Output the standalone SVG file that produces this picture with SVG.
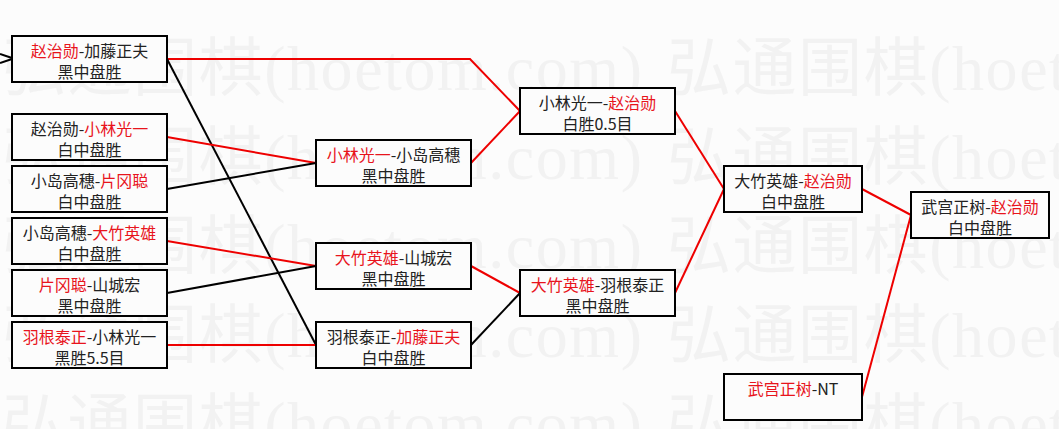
<svg xmlns="http://www.w3.org/2000/svg" width="1059" height="429" viewBox="0 0 1059 429">
<style>
.bg{fill:#fcfcfc}
.wm{font-family:"Liberation Serif","Noto Sans CJK SC",serif;font-size:64px;fill:#f2f2f2}
.box{fill:#fcfcfc;stroke:#000;stroke-width:2}
.t{font-family:"Noto Sans CJK SC","Noto Sans CJK JP",sans-serif;font-size:16px;fill:#222;text-anchor:middle}
.r{fill:#e8141c}
.lr{stroke:#ee0000;stroke-width:2;fill:none}
.lb{stroke:#000;stroke-width:2;fill:none}
</style>
<rect class="bg" x="0" y="0" width="1059" height="429"/>
<g id="watermark" class="wm">
<text x="2" y="90" textLength="640" lengthAdjust="spacing">弘通围棋(hoetom.com)</text>
<text x="667" y="90" textLength="640" lengthAdjust="spacing">弘通围棋(hoetom.com)</text>
<text x="2" y="179" textLength="640" lengthAdjust="spacing">弘通围棋(hoetom.com)</text>
<text x="667" y="179" textLength="640" lengthAdjust="spacing">弘通围棋(hoetom.com)</text>
<text x="2" y="268" textLength="640" lengthAdjust="spacing">弘通围棋(hoetom.com)</text>
<text x="667" y="268" textLength="640" lengthAdjust="spacing">弘通围棋(hoetom.com)</text>
<text x="2" y="357" textLength="640" lengthAdjust="spacing">弘通围棋(hoetom.com)</text>
<text x="667" y="357" textLength="640" lengthAdjust="spacing">弘通围棋(hoetom.com)</text>
<text x="2" y="446" textLength="640" lengthAdjust="spacing">弘通围棋(hoetom.com)</text>
<text x="667" y="446" textLength="640" lengthAdjust="spacing">弘通围棋(hoetom.com)</text>
</g>
<g id="connectors">
<polyline class="lb" points="0,54 12,58"/>
<polyline class="lb" points="0,63 12,59"/>
<polyline class="lr" points="167,59 470,59 520,111"/>
<polyline class="lb" points="167,59 316,345"/>
<polyline class="lr" points="167,137 316,163"/>
<polyline class="lb" points="167,189 316,163"/>
<polyline class="lr" points="167,241 316,266"/>
<polyline class="lb" points="167,293 316,266"/>
<polyline class="lr" points="167,345 316,345"/>
<polyline class="lr" points="471,163 520,111"/>
<polyline class="lr" points="471,266 520,293"/>
<polyline class="lb" points="471,345 520,293"/>
<polyline class="lr" points="675,111 724,189"/>
<polyline class="lr" points="675,293 724,189"/>
<polyline class="lr" points="862,189 911,215"/>
<polyline class="lr" points="862,397 911,215"/>
</g>
<g id="n1a"><rect class="box" x="12" y="36" width="155" height="46"/>
<text class="t" x="89.5" y="57"><tspan class="r">赵治勋</tspan>-加藤正夫</text>
<text class="t" x="89.5" y="78">黑中盘胜</text></g>
<g id="n1b"><rect class="box" x="12" y="114" width="155" height="46"/>
<text class="t" x="89.5" y="135">赵治勋-<tspan class="r">小林光一</tspan></text>
<text class="t" x="89.5" y="156">白中盘胜</text></g>
<g id="n1c"><rect class="box" x="12" y="166" width="155" height="46"/>
<text class="t" x="89.5" y="187">小岛高穗-<tspan class="r">片冈聪</tspan></text>
<text class="t" x="89.5" y="208">白中盘胜</text></g>
<g id="n1d"><rect class="box" x="12" y="218" width="155" height="46"/>
<text class="t" x="89.5" y="239">小岛高穗-<tspan class="r">大竹英雄</tspan></text>
<text class="t" x="89.5" y="260">白中盘胜</text></g>
<g id="n1e"><rect class="box" x="12" y="270" width="155" height="46"/>
<text class="t" x="89.5" y="291"><tspan class="r">片冈聪</tspan>-山城宏</text>
<text class="t" x="89.5" y="312">黑中盘胜</text></g>
<g id="n1f"><rect class="box" x="12" y="322" width="155" height="46"/>
<text class="t" x="89.5" y="343"><tspan class="r">羽根泰正</tspan>-小林光一</text>
<text class="t" x="89.5" y="364">黑胜5.5目</text></g>
<g id="n2a"><rect class="box" x="316" y="140" width="155" height="46"/>
<text class="t" x="393.5" y="161"><tspan class="r">小林光一</tspan>-小岛高穗</text>
<text class="t" x="393.5" y="182">黑中盘胜</text></g>
<g id="n2b"><rect class="box" x="316" y="243" width="155" height="46"/>
<text class="t" x="393.5" y="264"><tspan class="r">大竹英雄</tspan>-山城宏</text>
<text class="t" x="393.5" y="285">黑中盘胜</text></g>
<g id="n2c"><rect class="box" x="316" y="322" width="155" height="46"/>
<text class="t" x="393.5" y="343">羽根泰正-<tspan class="r">加藤正夫</tspan></text>
<text class="t" x="393.5" y="364">白中盘胜</text></g>
<g id="n3a"><rect class="box" x="520" y="88" width="155" height="46"/>
<text class="t" x="597.5" y="109">小林光一-<tspan class="r">赵治勋</tspan></text>
<text class="t" x="597.5" y="130">白胜0.5目</text></g>
<g id="n3b"><rect class="box" x="520" y="270" width="155" height="46"/>
<text class="t" x="597.5" y="291"><tspan class="r">大竹英雄</tspan>-羽根泰正</text>
<text class="t" x="597.5" y="312">黑中盘胜</text></g>
<g id="n4a"><rect class="box" x="724" y="166" width="138" height="46"/>
<text class="t" x="793" y="187">大竹英雄-<tspan class="r">赵治勋</tspan></text>
<text class="t" x="793" y="208">白中盘胜</text></g>
<g id="n4b"><rect class="box" x="724" y="374" width="138" height="46"/>
<text class="t" x="793" y="395"><tspan class="r">武宫正树</tspan>-NT</text></g>
<g id="n5"><rect class="box" x="911" y="192" width="138" height="46"/>
<text class="t" x="980" y="213">武宫正树-<tspan class="r">赵治勋</tspan></text>
<text class="t" x="980" y="234">白中盘胜</text></g>
</svg>
